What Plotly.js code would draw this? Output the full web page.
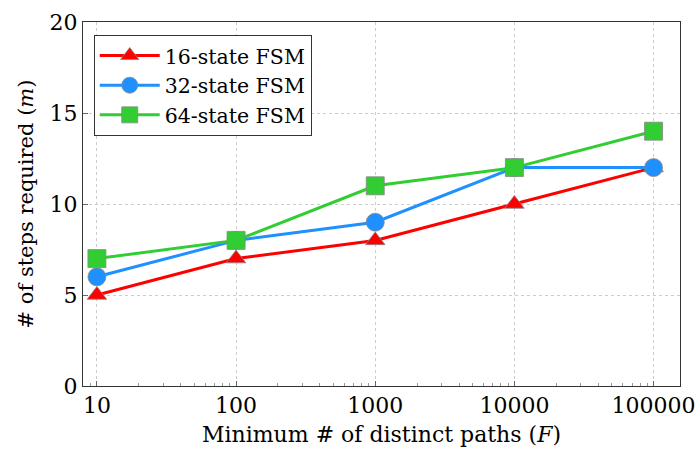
<!DOCTYPE html>
<html><head><meta charset="utf-8">
<script src="https://cdn.plot.ly/plotly-3.0.1.min.js"></script>
<style>body{margin:0;background:#fff}#c{width:700px;height:451px}</style>
</head><body><div id="c"></div>
<script>
const xVals = [10, 100, 1000, 10000, 100000];
const tickLabels = ['10', '100', '1000', '10000', '100000'];
const fsm16 = [5, 7, 8, 10, 12];
const fsm32 = [6, 8, 9, 12, 12];
const fsm64 = [7, 8, 11, 12, 14];
const names = ['16-state FSM', '32-state FSM', '64-state FSM'];

const font = '"DejaVu Serif", "Liberation Serif", serif';
function tr(y, name, color, symbol, size) {
  return {x: xVals, y: y, name: name, type: 'scatter', mode: 'lines+markers',
    line: {color: color, width: 3},
    marker: {color: color, symbol: symbol, size: size, line: {color: '#888', width: 0.8}}};
}
const data = [
  tr(fsm16, names[0], '#ff0000', 'triangle-up', 17),
  tr(fsm32, names[1], '#1e90ff', 'circle', 18),
  tr(fsm64, names[2], '#32cd32', 'square', 18)
];
const layout = {
  width: 700, height: 451,
  margin: {l: 83, r: 20, t: 22, b: 65},
  paper_bgcolor: '#fff', plot_bgcolor: '#fff',
  font: {family: font, color: '#000'},
  showlegend: true,
  legend: {x: 0.018, y: 0.965, xanchor: 'left', yanchor: 'top',
    bgcolor: '#fff', bordercolor: '#333', borderwidth: 1,
    font: {size: 20.5, family: font}, tracegroupgap: 0, itemwidth: 60},
  xaxis: {type: 'log', range: [0.9, 5.19], tickvals: xVals, ticktext: tickLabels,
    showgrid: true, gridcolor: '#cccccc', griddash: 'dot', gridwidth: 1,
    showline: true, linecolor: '#333', linewidth: 1, mirror: true,
    ticks: 'inside', ticklen: 5, tickcolor: '#666',
    minor: {ticks: 'inside', ticklen: 3, tickcolor: '#999', showgrid: false, dtick: 'D1'},
    tickfont: {size: 22, family: font}, zeroline: false,
    title: {text: 'Minimum # of distinct paths (<i>F</i>)', font: {size: 22, family: font}, standoff: 9}},
  yaxis: {range: [0, 20], tickvals: [0, 5, 10, 15, 20],
    showgrid: true, gridcolor: '#cccccc', griddash: 'dot', gridwidth: 1,
    showline: true, linecolor: '#333', linewidth: 1, mirror: true,
    ticks: 'inside', ticklen: 5, tickcolor: '#666',
    tickfont: {size: 22, family: font}, zeroline: false,
    title: {text: '# of steps required (<i>m</i>)', font: {size: 21, family: font}, standoff: 10}}
};
Plotly.newPlot('c', data, layout, {displayModeBar: false, staticPlot: true});
</script></body></html>
